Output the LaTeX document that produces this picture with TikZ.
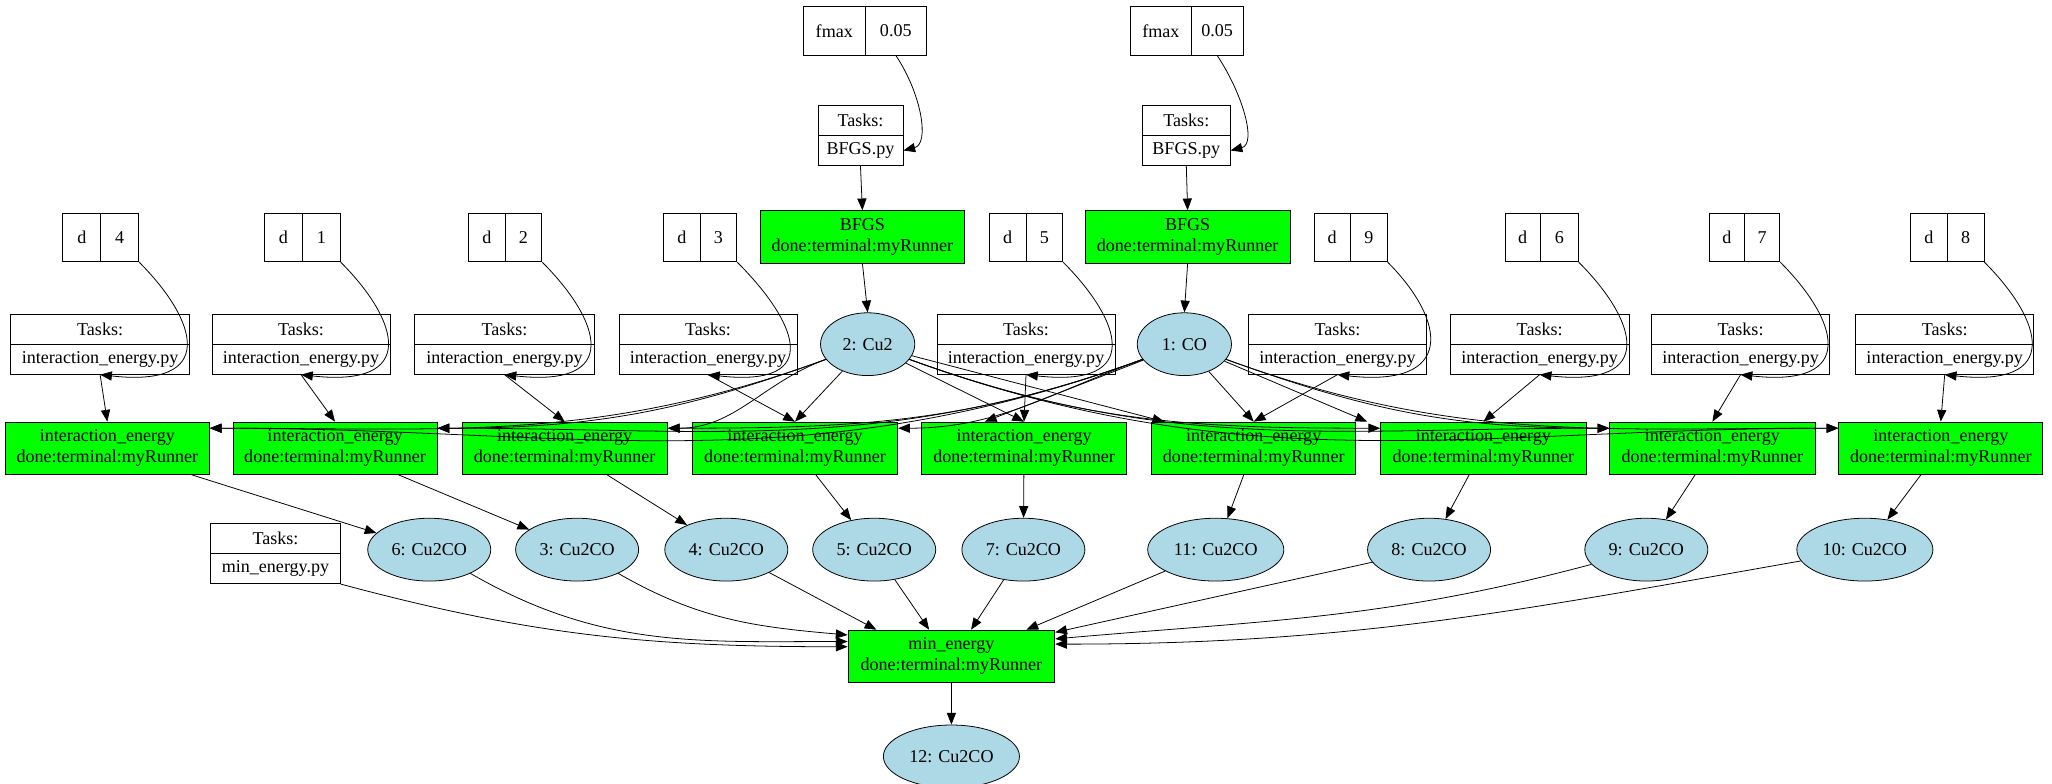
\documentclass[tikz,border=0pt]{standalone}
\usepackage{fontspec}
\setmainfont{Liberation Serif}
\usetikzlibrary{arrows.meta,calc,shapes.geometric}
\begin{document}
\begin{tikzpicture}[x=1pt,y=-1pt,
 every node/.style={font=\fontsize{13.8}{16}\selectfont, inner sep=0pt},
 cell/.style={draw,rectangle,minimum height=37pt},
 trow/.style={draw,rectangle,minimum height=23pt},
 green/.style={draw,rectangle,fill=green,minimum height=40pt,align=center},
 ell/.style={draw,ellipse,fill=cyan!30!blue!10!white,fill=lightblue},
 arr/.style={-{Triangle[length=9pt,width=7pt]},line width=0.6pt},
 line width=0.6pt]
\definecolor{lightblue}{RGB}{173,216,230}
\definecolor{green}{RGB}{0,255,0}
\useasboundingbox (0,0) rectangle (1568,599);
% fmax boxes and BFGS chains
\foreach \n/\lx/\sx/\rx/\tl/\tr/\bl/\br in {a/614/661/708/625/690/581/737, b/864/910/950/873/940/829/986}{
 \node[cell,minimum width={(\sx-\lx)*1pt}] (f\n l) at ({(\lx+\sx)/2},23.5) {fmax};
 \node[cell,minimum width={(\rx-\sx)*1pt}] (f\n r) at ({(\sx+\rx)/2},23.5) {0.05};
 \node[trow,minimum width={(\tr-\tl)*1pt}] (tb\n t) at ({(\tl+\tr)/2},92) {Tasks:};
 \node[trow,minimum width={(\tr-\tl)*1pt}] (tb\n b) at ({(\tl+\tr)/2},115) {BFGS.py};
 \node[green,minimum width={(\br-\bl)*1pt}] (bf\n) at ({(\bl+\br)/2},181) {BFGS\\done:terminal:myRunner};
 \draw[arr] (f\n r.south) .. controls +(20,30) and +(20,-5) .. (tb\n b.east);
 \draw[arr] (tb\n b.south) -- (bf\n.north);
}
\node[ell,minimum width=72pt,minimum height=48pt] (cu2) at (663,263) {2: Cu2};
\node[ell,minimum width=72pt,minimum height=48pt] (co) at (905,263) {1: CO};
\draw[arr] (bfa.south) -- (cu2.north);
\draw[arr] (bfb.south) -- (co.north);
% d boxes, task boxes, IE boxes
\foreach \i/\dl/\ds/\dr/\tl/\tr/\el/\er in {
 1/48/77/106/8/145/4/160,
 2/202/231/260/162/298/178/334,
 3/358/386/414/317/454/353/510,
 4/507/535/563/473/609/529/686,
 5/756/784/812/716/852/704/861,
 6/1004/1032/1060/954/1090/880/1036,
 7/1150/1177/1206/1108/1245/1055/1212,
 8/1306/1333/1360/1262/1398/1230/1387,
 9/1460/1488/1516/1418/1554/1405/1561}{
 \node[cell,minimum width={(\ds-\dl)*1pt}] (d\i l) at ({(\dl+\ds)/2},181.5) {d};
 \node[trow,minimum width={(\tr-\tl)*1pt}] (t\i t) at ({(\tl+\tr)/2},251.5) {Tasks:};
 \node[trow,minimum width={(\tr-\tl)*1pt}] (t\i b) at ({(\tl+\tr)/2},274.5) {interaction\_energy.py};
 \node[green,minimum width={(\er-\el)*1pt}] (ie\i) at ({(\el+\er)/2},342.5) {interaction\_energy\\done:terminal:myRunner};
 \draw[arr] (t\i b.south) -- (ie\i.north);
}
\foreach \i/\dl/\ds/\dr/\v in {1/48/77/106/4,2/202/231/260/1,3/358/386/414/2,4/507/535/563/3,5/756/784/812/5,6/1004/1032/1060/9,7/1150/1177/1206/6,8/1306/1333/1360/7,9/1460/1488/1516/8}{
 \node[cell,minimum width={(\dr-\ds)*1pt}] (d\i r) at ({(\ds+\dr)/2},181.5) {\v};
 \draw[arr] (d\i r.south east) .. controls +(45,45) and +(90,10) .. (t\i b.south);
}
% Cu2 / CO to IE
\foreach \s in {cu2,co}{
 \foreach \i in {1,2,3}{\draw[arr] (\s) to[out=200,in=0] ($(ie\i.north east)+(0,5)$);}
 \foreach \i in {8,9}{\draw[arr] (\s) to[out=-20,in=180] ($(ie\i.north west)+(0,5)$);}
}
\draw[arr] (cu2) -- (ie4.north);
\draw[arr] (cu2) -- (ie5.north);
\draw[arr] (cu2) -- ($(ie6.north west)+(10,0)$);
\draw[arr] (cu2) to[out=-20,in=180] ($(ie7.north west)+(0,5)$);
\draw[arr] (co) to[out=200,in=0] ($(ie4.north east)+(0,5)$);
\draw[arr] (co) -- ($(ie5.north)+(-30,0)$);
\draw[arr] (co) -- (ie6.north);
\draw[arr] (co) -- ($(ie7.north west)+(-10,0)$);
% outputs
\foreach \i/\lab/\x/\w in {1/6/328/94,2/3/441/94,3/4/555/94,4/5/668/94,5/7/782/94,6/11/929/104,7/8/1092/94,8/9/1258/94,9/10/1425/104}{
 \node[ell,minimum width=\w pt,minimum height=48pt] (o\i) at (\x,420) {\lab: Cu2CO};
 \draw[arr] (ie\i) -- (o\i);
}
\node[trow,minimum width=99pt] (tmt) at (210.5,411.5) {Tasks:};
\node[trow,minimum width=99pt] (tmb) at (210.5,434.5) {min\_energy.py};
\node[green,minimum width=158pt] (me) at (727,501.5) {min\_energy\\done:terminal:myRunner};
\node[ell,minimum width=104pt,minimum height=48pt] (o12) at (727,578) {12: Cu2CO};
\draw[arr] (tmb.south east) to[out=-15,in=180] ($(me.north west)+(0,13)$);
\draw[arr] (o1) to[out=-30,in=180] ($(me.north west)+(0,9)$);
\draw[arr] (o2) to[out=-30,in=175] ($(me.north west)+(0,4)$);
\draw[arr] (o3) -- ($(me.north west)+(22,0)$);
\draw[arr] (o4) -- ($(me.north)+(-17,0)$);
\draw[arr] (o5) -- ($(me.north)+(15,0)$);
\draw[arr] (o6) -- ($(me.north east)+(-22,0)$);
\draw[arr] (o7) -- ($(me.north east)+(0,2)$);
\draw[arr] (o8) to[out=195,in=5] ($(me.north east)+(0,7)$);
\draw[arr] (o9) to[out=190,in=0] ($(me.north east)+(0,11)$);
\draw[arr] (me) -- (o12);
\end{tikzpicture}
\end{document}
